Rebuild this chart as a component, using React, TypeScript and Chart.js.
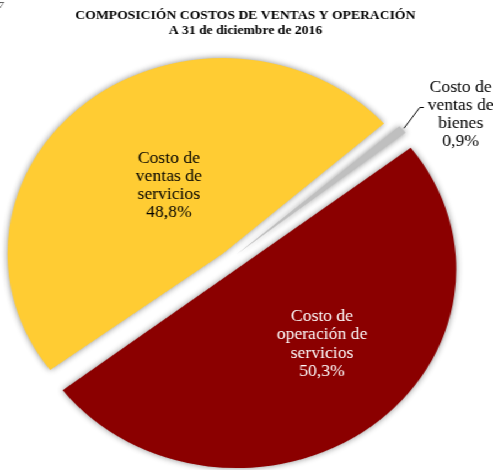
import React, { useEffect, useRef } from 'react';
import { Chart, registerables } from 'chart.js';

Chart.register(...registerables);

// ---- data ----
const titleLines = ['COMPOSICIÓN COSTOS DE VENTAS Y OPERACIÓN', 'A 31 de diciembre de 2016'];
const categories = ['Costo de ventas de servicios', 'Costo de ventas de bienes', 'Costo de operación de servicios'];
const categoryLines = [
  ['Costo de', 'ventas de', 'servicios'],
  ['Costo de', 'ventas de', 'bienes'],
  ['Costo de', 'operación de', 'servicios'],
];
const values = [48.8, 0.9, 50.3];
const percentLabels = ['48,8%', '0,9%', '50,3%'];
const sliceColors = ['#FFCC33', '#BFBFBF', '#8B0000'];
const labelColors = ['#000000', '#000000', '#FFFFFF'];
const cornerMark = '7';

// ---- layout / style ----
const CANVAS_W = 447;
const CANVAS_H = 470;
const STRETCH_X = 493 / CANVAS_W;
// label placement relative to each slice: radius factor, angle shift (deg)
const labelPlacement = [
  { r: 0.4725, d: 1.2 },
  { r: 1.35, d: 5.8 },
  { r: 0.652, d: -6.1 },
];

const shadowPlugin = {
  id: 'sliceShadow',
  beforeDatasetsDraw(chart: any) {
    const ctx = chart.ctx;
    ctx.save();
    ctx.shadowColor = 'rgba(0,0,0,0.45)';
    ctx.shadowBlur = 6;
    ctx.shadowOffsetX = 0;
    ctx.shadowOffsetY = 0;
  },
  afterDatasetsDraw(chart: any) {
    chart.ctx.restore();
  },
};

const labelPlugin = {
  id: 'sliceLabels',
  afterDraw(chart: any) {
    const ctx = chart.ctx;
    const meta = chart.getDatasetMeta(0);
    ctx.save();
    // title
    ctx.fillStyle = '#000000';
    ctx.textAlign = 'center';
    ctx.textBaseline = 'middle';
    ctx.font = 'bold 12.4px "Liberation Serif", serif';
    titleLines.forEach((t, k) => {
      ctx.fillText(t, chart.width / 2 - 1, 15.75 + k * 14.75);
    });
    meta.data.forEach((arc: any, i: number) => {
      const { x, y, startAngle, endAngle, outerRadius } = arc.getProps(
        ['x', 'y', 'startAngle', 'endAngle', 'outerRadius'],
        true
      );
      const mid = (startAngle + endAngle) / 2;
      const p = labelPlacement[i];
      const a = mid + (p.d * Math.PI) / 180;
      const lx = x + Math.cos(a) * outerRadius * p.r;
      const ly = y + Math.sin(a) * outerRadius * p.r;
      const lines = [...categoryLines[i], percentLabels[i]];
      ctx.font = '16px "Liberation Serif", serif';
      ctx.fillStyle = labelColors[i];
      ctx.textAlign = 'center';
      ctx.textBaseline = 'alphabetic';
      const lh = 18.2;
      lines.forEach((t, k) => {
        ctx.fillText(t, lx, ly + (k - (lines.length - 1) / 2) * lh);
      });
      if (p.r > 1) {
        const a2 = mid - (1.7 * Math.PI) / 180;
        const x1 = x + Math.cos(mid) * outerRadius * 1.1;
        const y1 = y + Math.sin(mid) * outerRadius * 1.1;
        const x2 = x + Math.cos(a2) * outerRadius * 1.23;
        const y2 = y + Math.sin(a2) * outerRadius * 1.23;
        ctx.strokeStyle = '#000000';
        ctx.lineWidth = 1;
        ctx.beginPath();
        ctx.moveTo(x1, y1);
        ctx.lineTo(x2, y2);
        ctx.lineTo(x2 + 3.6, y2);
        ctx.stroke();
      }
    });
    ctx.font = 'italic 9px "Liberation Serif", serif';
    ctx.fillStyle = '#333333';
    ctx.textAlign = 'left';
    ctx.textBaseline = 'alphabetic';
    ctx.fillText(cornerMark, -1, 8);
    ctx.restore();
  },
};

export default function App() {
  const canvasRef = useRef<HTMLCanvasElement | null>(null);

  useEffect(() => {
    document.body.style.margin = '0';
    const canvas = canvasRef.current;
    if (!canvas) return;
    const chart = new Chart(canvas, {
      type: 'pie',
      data: {
        labels: categories,
        datasets: [
          {
            data: values,
            backgroundColor: sliceColors,
            borderWidth: 0,
            offset: [34, 35, 46],
            clip: false,
            radius: 187.5,
          } as any,
        ],
      },
      options: {
        responsive: false,
        animation: false,
        events: [],
        rotation: -127,
        radius: 187.5,
        layout: { padding: { left: 0, right: 31.8, top: 50, bottom: 0 } },
        plugins: {
          legend: { display: false },
          tooltip: { enabled: false },
          title: { display: false },
        },
      } as any,
      plugins: [shadowPlugin, labelPlugin],
    });
    return () => chart.destroy();
  }, []);

  return (
    <div
      style={{
        width: CANVAS_W,
        height: CANVAS_H,
        transform: `scaleX(${STRETCH_X})`,
        transformOrigin: '0 0',
        background: '#ffffff',
      }}
    >
      <canvas ref={canvasRef} width={CANVAS_W} height={CANVAS_H} style={{ display: 'block' }} />
    </div>
  );
}
